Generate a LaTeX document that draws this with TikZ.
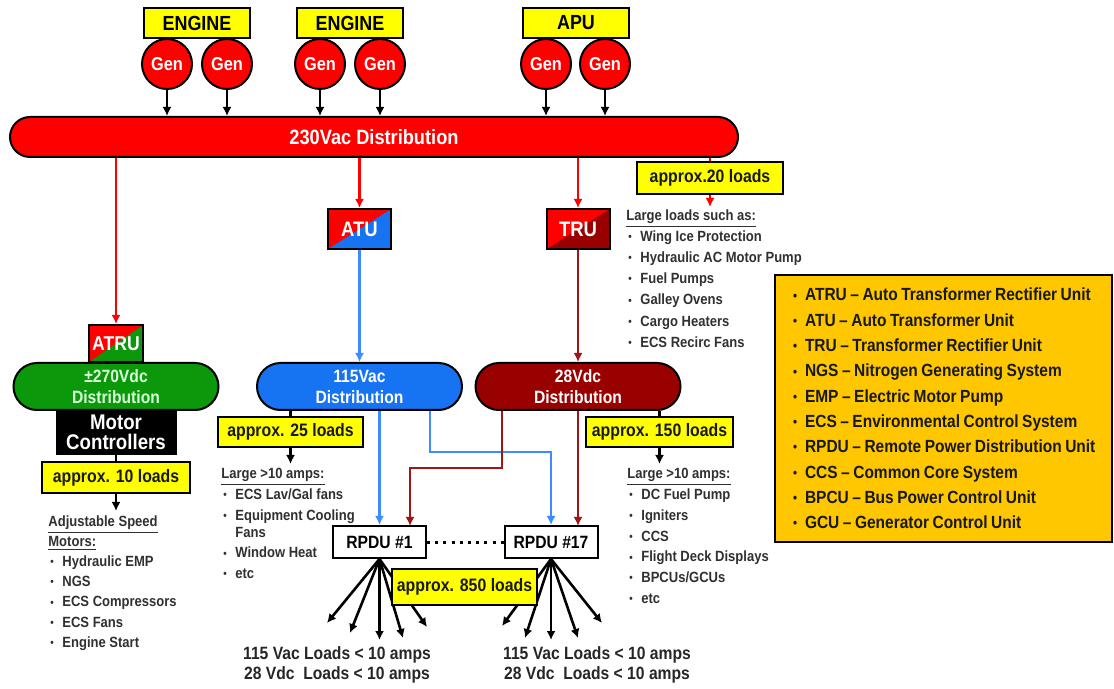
\documentclass[tikz,border=0pt]{standalone}
\usepackage{fontspec}
\setmainfont{Liberation Sans}[FakeStretch=0.88]
\usepackage{xcolor}
\usetikzlibrary{calc, arrows.meta, positioning}

\definecolor{busred}{HTML}{FF0000}
\definecolor{loadyellow}{HTML}{FFFF00}
\definecolor{acblue}{HTML}{1673F2}
\definecolor{wireblue}{HTML}{3D8BFF}
\definecolor{dcred}{HTML}{990000}
\definecolor{wiredc}{HTML}{A31515}
\definecolor{dcgreen}{HTML}{0B990B}
\definecolor{legendgold}{HTML}{FFC700}
\definecolor{listgray}{HTML}{303030}

\newcommand{\bul}{\makebox[7pt][l]{\hspace{1pt}\raisebox{0.4pt}{\scalebox{0.75}{\textbullet}}}}

\begin{document}
\begin{tikzpicture}[x=0.5pt, y=-0.5pt, >={Latex[length=4.5pt, width=4.5pt]}]
		\tikzstyle{srcbox} = [draw, line width=1pt, fill=loadyellow, minimum width=53pt, minimum height=15pt, inner sep=0pt, font=\fontsize{10.2}{12}\selectfont\bfseries]
		\tikzstyle{genball} = [draw, line width=1pt, circle, fill=busred, minimum size=25pt, inner sep=0pt, text=white, font=\fontsize{9.3}{11}\selectfont\bfseries]
		\tikzstyle{pill} = [draw, line width=1pt, rounded corners=11.75pt, minimum width=102.5pt, minimum height=23.5pt, inner sep=0pt, align=center, text=white, font=\fontsize{8.9}{10.5}\selectfont\bfseries]
		\tikzstyle{splitbox} = [draw, line width=1pt, minimum width=31.5pt, minimum height=20pt, inner sep=0pt, text=white, font=\fontsize{10.5}{12}\selectfont\bfseries]
		\tikzstyle{halfred} = [path picture={\fill[busred] (path picture bounding box.north west) -- (path picture bounding box.north east) -- (path picture bounding box.south west) -- cycle;}]
		\tikzstyle{loadbox} = [draw, line width=1pt, fill=loadyellow, inner sep=0pt, text=black!90, font=\fontsize{9}{10.5}\selectfont\bfseries]
		\tikzstyle{rpdubox} = [draw, line width=1pt, fill=white, minimum width=46.5pt, minimum height=16pt, inner sep=0pt, font=\fontsize{8.9}{10.5}\selectfont\bfseries]
		\tikzstyle{listtext} = [anchor=north west, inner sep=0pt, align=left, text=listgray, font=\fontsize{7.4}{10.4}\selectfont\bfseries]
		\tikzstyle{redwire} = [draw=busred, line width=1.1pt]
		\tikzstyle{bluewire} = [draw=wireblue, line width=1.1pt]
		\tikzstyle{dcwire} = [draw=wiredc, line width=1.1pt]
		\tikzstyle{blackwire} = [draw=black, line width=1.3pt]
		
		\useasboundingbox (0, 0) rectangle (1114, 689);
		
		% sources
		\node[srcbox] 	at (197, 23) 	(eng1) 	{ENGINE};
		\node[srcbox] 	at (350, 23) 	(eng2) 	{ENGINE};
		\node[srcbox] 	at (576, 23) 	(apu) 	{APU};
		
		\node[genball] 	at (167, 64) 	(gen1) 	{Gen};
		\node[genball] 	at (227, 64) 	(gen2) 	{Gen};
		\node[genball] 	at (320, 64) 	(gen3) 	{Gen};
		\node[genball] 	at (380, 64) 	(gen4) 	{Gen};
		\node[genball] 	at (546, 64) 	(gen5) 	{Gen};
		\node[genball] 	at (605, 64) 	(gen6) 	{Gen};
		
		\node[pill, fill=busred, rounded corners=10pt, minimum width=364pt, minimum height=20pt, font=\fontsize{10.35}{12}\selectfont\bfseries] at (374, 137) (bus) {230Vac Distribution};
		
		% converters and buses
		\node[splitbox, fill=dcgreen, halfred, minimum width=27pt, minimum height=18.5pt, font=\fontsize{10}{12}\selectfont\bfseries] at (116, 343.5) (atru) {ATRU};
		\node[splitbox, fill=acblue, halfred] 	at (359.5, 229) 	(atu) 	{ATU};
		\node[splitbox, fill=dcred, halfred] 	at (578, 229) 	(tru) 	{TRU};
		
		\node[pill, fill=dcgreen, text=white!85!green] 	at (116, 386.5) 	(pill270) 	{±270Vdc\\Distribution};
		\node[pill, fill=acblue] 	at (359.5, 386.5) 	(pill115) 	{115Vac\\Distribution};
		\node[pill, fill=dcred] 	at (578, 386.5) 	(pill28) 	{28Vdc\\Distribution};
		
		\node[draw, line width=1pt, fill=black, text=white, align=center, minimum width=59.5pt, minimum height=22pt, inner sep=0pt, font=\fontsize{10.6}{10}\selectfont\bfseries] at (116, 432) (motor) {Motor\\Controllers};
		
		% load counts
		\node[loadbox, minimum width=74pt, minimum height=15.5pt] 	at (116, 477.5) 	(box10) 	{approx. 10 loads};
		\node[loadbox, minimum width=73pt, minimum height=16pt] 	at (710, 178) 	(box20) 	{approx.20 loads};
		\node[loadbox, minimum width=72.5pt, minimum height=15pt] 	at (290.5, 432) 	(box25) 	{approx. 25 loads};
		\node[loadbox, minimum width=73.5pt, minimum height=15pt] 	at (659.5, 432) 	(box150) 	{approx. 150 loads};
		
		\node[rpdubox] 	at (379.5, 542) 	(rpdu1) 	{RPDU \#1};
		\node[rpdubox] 	at (551, 542) 	(rpdu17) 	{RPDU \#17};
		
		% load lists
		\node[listtext, font=\fontsize{7.4}{10.1}\selectfont\bfseries] at (48, 515) (list270) {\underline{Adjustable Speed}\\\underline{Motors:}\\\bul Hydraulic EMP\\\bul NGS\\\bul ECS Compressors\\\bul ECS Fans\\\bul Engine Start};
		\node[listtext, font=\fontsize{7.4}{10.6}\selectfont\bfseries] at (626, 209) (list20) {\underline{Large loads such as:}\\\bul Wing Ice Protection\\\bul Hydraulic AC Motor Pump\\\bul Fuel Pumps\\\bul Galley Ovens\\\bul Cargo Heaters\\\bul ECS Recirc Fans};
		\node[listtext] at (221, 468) (list25) {\underline{Large >10 amps:}\\\bul ECS Lav/Gal fans\\\bul Equipment Cooling\\[-2pt]\hspace*{7pt}Fans\\\bul Window Heat\\\bul etc};
		\node[listtext] at (627, 468) (list150) {\underline{Large >10 amps:}\\\bul DC Fuel Pump\\\bul Igniters\\\bul CCS\\\bul Flight Deck Displays\\\bul BPCUs/GCUs\\\bul etc};
		
		\node[align=center, inner sep=0pt, text=black!85, font=\fontsize{8.9}{10}\selectfont\bfseries] at (337, 665) (loads1) {115 Vac Loads < 10 amps\\28 Vdc\ \ Loads < 10 amps};
		\node[align=center, inner sep=0pt, text=black!85, font=\fontsize{8.9}{10}\selectfont\bfseries] at (597, 665) (loads17) {115 Vac Loads < 10 amps\\28 Vdc\ \ Loads < 10 amps};
		
		\node[draw, line width=1pt, fill=legendgold, minimum width=168.5pt, minimum height=133.5pt, inner xsep=8pt, text width=152.5pt, align=left, text=black!90, font=\fontsize{8.8}{12.65}\selectfont\bfseries] at (943.5, 408.5) (legend) {\spaceskip=0.2em plus 0.05em\relax
		\bul ATRU -- Auto Transformer Rectifier Unit\\\bul ATU -- Auto Transformer Unit\\\bul TRU -- Transformer Rectifier Unit\\\bul NGS -- Nitrogen Generating System\\\bul EMP -- Electric Motor Pump\\\bul ECS -- Environmental Control System\\\bul RPDU -- Remote Power Distribution Unit\\\bul CCS -- Common Core System\\\bul BPCU -- Bus Power Control Unit\\\bul GCU -- Generator Control Unit};
		
		\coordinate (a10) at (116, 511);
		\coordinate (a20) at (710, 207);
		\coordinate (a25) at (290.5, 464);
		\coordinate (a150) at (659.5, 464);
		\coordinate (bend115) at (430, 452);
		\coordinate (bend28) at (502, 468);
		\coordinate (rp1dc) at (410, 526);
		\coordinate (rp17dc) at (578, 526);
		
		\coordinate (f1a) at (327, 623);
		\coordinate (f1b) at (350, 633);
		\coordinate (f1c) at (379.5, 640);
		\coordinate (f1d) at (403, 638);
		\coordinate (f1e) at (427, 627);
		\coordinate (f17a) at (502, 626);
		\coordinate (f17b) at (525, 638);
		\coordinate (f17c) at (551, 640);
		\coordinate (f17d) at (578, 638);
		\coordinate (f17e) at (602, 623);
		
		% generator feeds
		\path[->]
		(gen1)	edge[blackwire]	(gen1 |- bus.north)
		(gen2)	edge[blackwire]	(gen2 |- bus.north)
		(gen3)	edge[blackwire]	(gen3 |- bus.north)
		(gen4)	edge[blackwire]	(gen4 |- bus.north)
		(gen5)	edge[blackwire]	(gen5 |- bus.north)
		(gen6)	edge[blackwire]	(gen6 |- bus.north);
		
		\path[->]
		(bus.south -| atru.north)	edge[redwire]	(atru.north)
		(bus.south -| atu.north)	edge[redwire]	(atu.north)
		(bus.south -| tru.north)	edge[redwire]	(tru.north)
		(box20)	edge[redwire]	(a20);
		\draw[redwire] (bus.south -| box20.north) -- (box20.north);
		
		\draw[->, bluewire] (atu) -- (pill115);
		\draw[->, dcwire] (tru) -- (pill28);
		
		\draw[blackwire] (motor) -- (box10);
		\draw[blackwire] (pill115.south -| box25.north) -- (box25.north);
		\draw[blackwire] (pill28.south -| box150.north) -- (box150.north);
		\path[->]
		(box10)	edge[blackwire]	(a10)
		(box25)	edge[blackwire]	(a25)
		(box150)	edge[blackwire]	(a150);
		
		% rpdu feeds
		\draw[->, bluewire] (pill115.south -| rpdu1.north) -- (rpdu1.north);
		\draw[->, bluewire] (pill115.south -| bend115) -- (bend115) -| (rpdu17.north);
		\draw[->, dcwire] (pill28.south -| bend28) -- (bend28) -| (rp1dc);
		\draw[->, dcwire] (pill28.south -| rp17dc) -- (rp17dc);
		
		\draw[line width=1.5pt, dash pattern=on 1.5pt off 2.6pt] (rpdu1) -- (rpdu17);
		
		\path[->]
		(rpdu1.south)	edge[blackwire]	(f1a)
		(rpdu1.south)	edge[blackwire]	(f1b)
		(rpdu1.south)	edge[blackwire]	(f1c)
		(rpdu1.south)	edge[blackwire]	(f1d)
		(rpdu1.south)	edge[blackwire]	(f1e)
		(rpdu17.south)	edge[blackwire]	(f17a)
		(rpdu17.south)	edge[blackwire]	(f17b)
		(rpdu17.south)	edge[blackwire]	(f17c)
		(rpdu17.south)	edge[blackwire]	(f17d)
		(rpdu17.south)	edge[blackwire]	(f17e);
		
		\node[loadbox, minimum width=72.5pt, minimum height=18pt] 	at (464.5, 587) 	(box850) 	{approx. 850 loads};
\end{tikzpicture}
\end{document}
